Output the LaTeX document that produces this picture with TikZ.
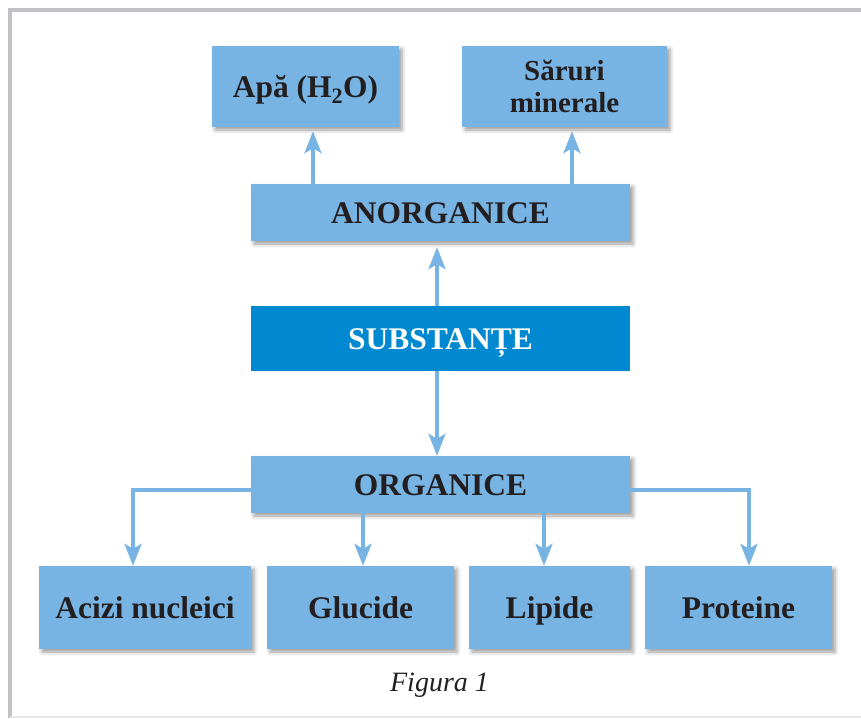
\documentclass[tikz,border=0pt]{standalone}
\usepackage{fontspec}
\setmainfont{Liberation Serif}
\usetikzlibrary{arrows.meta,shadows.blur}
\definecolor{boxblue}{HTML}{77B4E4}
\definecolor{darkblue}{HTML}{0089D1}
\definecolor{textgray}{HTML}{231F20}
\definecolor{framegray}{HTML}{C1C0C5}
\begin{document}
\begin{tikzpicture}[x=1pt,y=-1pt,
        box/.style={fill=boxblue,text=textgray,font=\bfseries\fontsize{31.5}{32}\selectfont,align=center,inner sep=0pt,
            blur shadow={shadow xshift=3pt,shadow yshift=-3pt,shadow blur radius=4pt,shadow opacity=40}},
        oneline/.style={text height=26pt,text depth=4pt},
        arr/.style={draw=boxblue,line width=3.5pt,-{Stealth[length=22pt,width=17pt,inset=5pt]}}]
                \useasboundingbox (0,0) rectangle (861,718);
                \draw[framegray,line width=4] (861,10) -- (10,10) -- (10,718);
                \draw[framegray!40,line width=2] (10,717) -- (861,717);
                \node[box,oneline,minimum width=187,minimum height=81] (apa) at (305.5,86.5) {Apă (H\textsubscript{2}O)};
                \node[box,font=\bfseries\fontsize{29}{32}\selectfont,minimum width=205,minimum height=81] (sar) at (564.5,86.5) {Săruri\\minerale};
                \node[box,oneline,minimum width=379,minimum height=57] (anorg) at (440.5,212.5) {ANORGANICE};
                \node[fill=darkblue,text=white,font=\bfseries\fontsize{31.5}{32}\selectfont,inner sep=0pt,oneline,minimum width=379,minimum height=65] (subst) at (440.5,338.5) {SUBSTANȚE};
                \node[box,oneline,minimum width=379,minimum height=57] (org) at (440.5,484.5) {ORGANICE};
                \node[box,oneline,minimum width=212,minimum height=83] (acizi) at (145,607.5) {Acizi nucleici};
                \node[box,oneline,minimum width=187,minimum height=83] (gluc) at (360.5,607.5) {Glucide};
                \node[box,oneline,minimum width=161,minimum height=83] (lip) at (549.5,607.5) {Lipide};
                \node[box,oneline,minimum width=187,minimum height=83] (prot) at (738.5,607.5) {Proteine};
                \node[font=\itshape\fontsize{28}{30}\selectfont,text=textgray] (fig) at (439.5,685) {Figura 1};
                \draw[arr,shorten >=4pt] ([xshift=7.5pt]apa.south |- anorg.north) -- ([xshift=7.5pt]apa.south);
                \draw[arr,shorten >=4pt] ([xshift=7.5pt]sar.south |- anorg.north) -- ([xshift=7.5pt]sar.south);
                \draw[arr,shorten >=6pt] ([xshift=-3.5pt]subst.north) -- ([xshift=-3.5pt]anorg.south);
                \draw[arr] ([xshift=-3.5pt]subst.south) -- ([xshift=-3.5pt]org.north);
                \draw[arr] ([yshift=-5.5pt]org.west) -| ([xshift=-12pt]acizi.north);
                \draw[arr] ([xshift=2.5pt]gluc.north |- org.south) -- ([xshift=2.5pt]gluc.north);
                \draw[arr] ([xshift=-5.5pt]lip.north |- org.south) -- ([xshift=-5.5pt]lip.north);
                \draw[arr] ([yshift=-5.5pt]org.east) -| ([xshift=10.5pt]prot.north);
            \end{tikzpicture}
\end{document}
